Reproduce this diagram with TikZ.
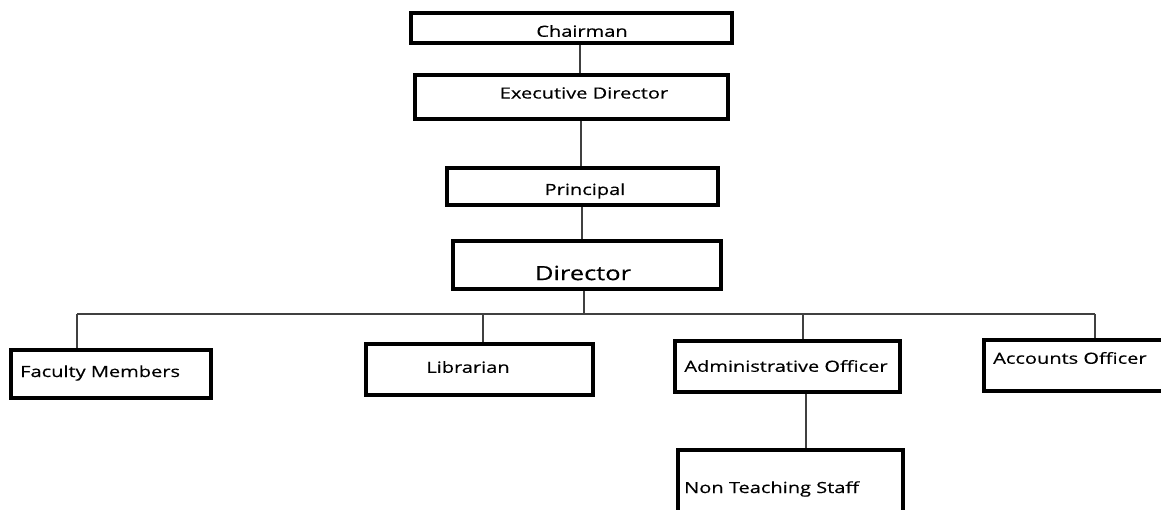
\documentclass[tikz,border=0pt]{standalone}
\usepackage{fontspec}
\newfontfamily\orgfont[FakeStretch=1.3,FakeBold=0.4]{Open Sans}
\begin{document}
\begin{tikzpicture}[x=1pt,y=-1pt,
  box/.style={draw=black,line width=4pt,fill=none,inner sep=0pt,rectangle},
  lbl/.style={font=\orgfont\fontsize{15.4}{18}\selectfont,inner sep=0pt,text=black},
  big/.style={font=\orgfont\fontsize{19.6}{23}\selectfont,inner sep=0pt,text=black},
  conn/.style={draw=black!75,line width=1.2pt}]
\useasboundingbox (0,0) rectangle (1161,510);
\clip (0,0) rectangle (1161,510);
\fill[white] (0,0) rectangle (1161,510);
% boxes
\node[box,minimum width=321pt,minimum height=30pt] (ch) at (571.5,28) {};
\node[box,minimum width=313pt,minimum height=44pt] (ex) at (571.5,97) {};
\node[box,minimum width=271pt,minimum height=37pt] (pr) at (582.5,186.5) {};
\node[box,minimum width=268pt,minimum height=48pt] (di) at (587,265) {};
\node[box,minimum width=200pt,minimum height=48pt] (fa) at (111,374) {};
\node[box,minimum width=227pt,minimum height=51pt] (li) at (479.5,369.5) {};
\node[box,minimum width=225pt,minimum height=51pt] (ad) at (787.5,366.5) {};
\node[box,minimum width=200pt,minimum height=51pt] (ac) at (1084,365.5) {};
\node[box,minimum width=225pt,minimum height=80pt] (nt) at (790.5,490) {};
% labels
\node[lbl] (chT) at (582,31) {Chairman};
\node[lbl] (exT) at (584,93) {Executive Director};
\node[lbl] (prT) at (585,191) {Principal};
\node[big] (diT) at (583,273) {Director};
\node[lbl,anchor=west] (faT) at (20,373) {Faculty Members};
\node[lbl] (liT) at (468,367) {Librarian};
\node[lbl] (adT) at (786,366) {Administrative Officer};
\node[lbl,anchor=west] (acT) at (993,358) {Accounts Officer};
\node[lbl,anchor=west] (ntT) at (684,489) {Non Teaching Staff};
% connector guides
\coordinate (x1) at (580,0);
\coordinate (x2) at (581,0);
\coordinate (x3) at (582,0);
\coordinate (x4) at (584,0);
\coordinate (xf) at (77,0);
\coordinate (xl) at (483,0);
\coordinate (xa) at (803,0);
\coordinate (xc) at (1095,0);
\coordinate (xn) at (806,0);
\coordinate (bus) at (0,314);
% connectors
\draw[conn] (ch.south -| x1) -- (ex.north -| x1);
\draw[conn] (ex.south -| x2) -- (pr.north -| x2);
\draw[conn] (pr.south -| x3) -- (di.north -| x3);
\draw[conn] (di.south -| x4) -- (bus -| x4);
\draw[conn] (bus -| xf) -- (bus -| xc);
\draw[conn] (bus -| xf) -- (fa.north -| xf);
\draw[conn] (bus -| xl) -- (li.north -| xl);
\draw[conn] (bus -| xa) -- (ad.north -| xa);
\draw[conn] (bus -| xc) -- (ac.north -| xc);
\draw[conn] (ad.south -| xn) -- (nt.north -| xn);
\end{tikzpicture}
\end{document}
